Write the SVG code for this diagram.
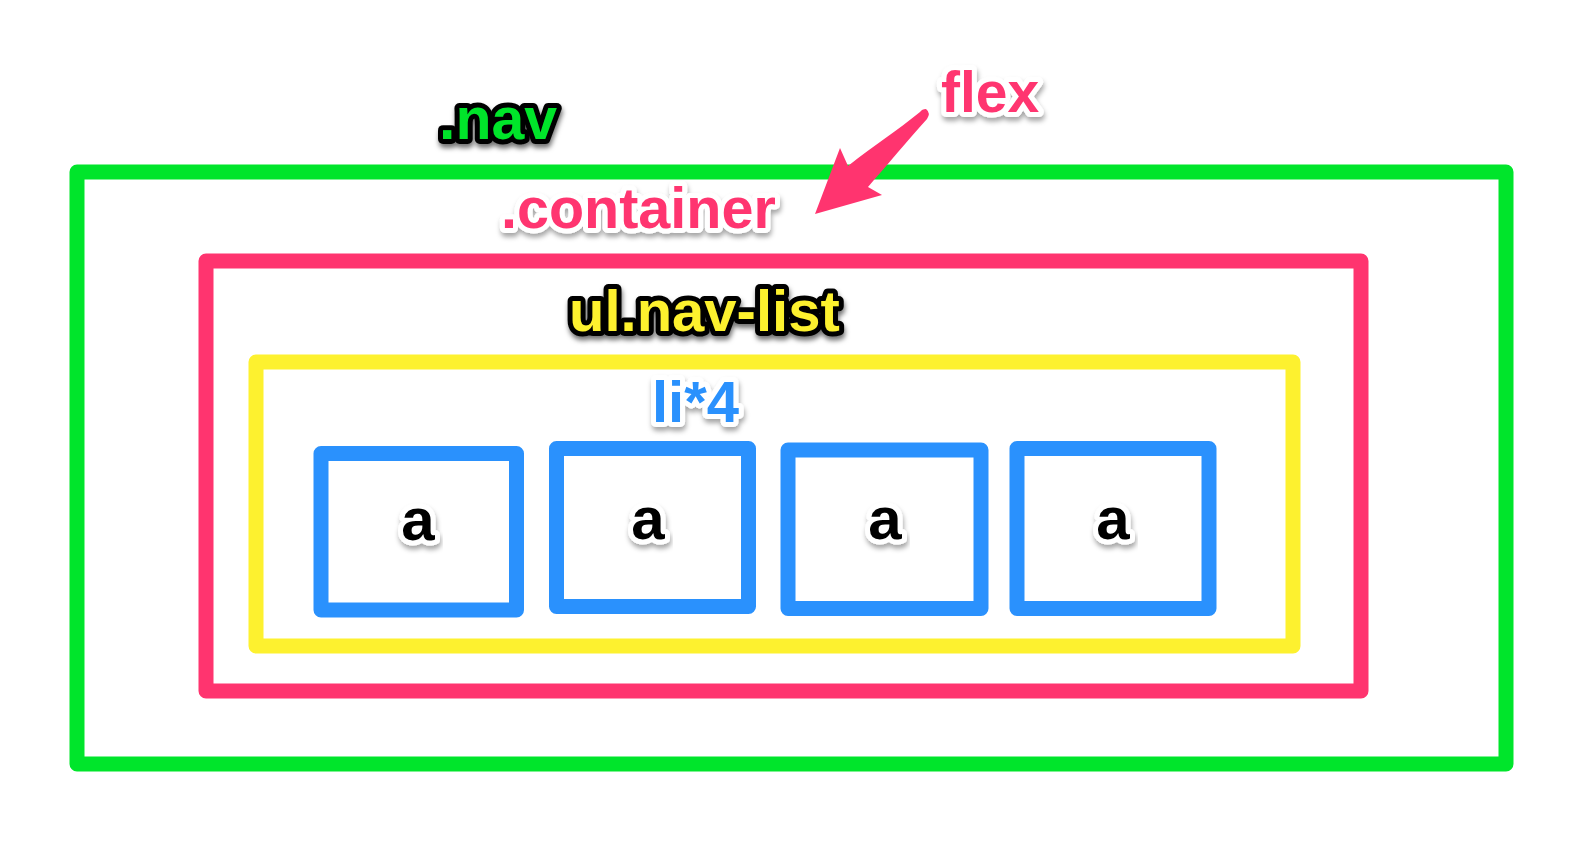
<svg xmlns="http://www.w3.org/2000/svg" width="1588" height="848" viewBox="0 0 1588 848">
  <defs>
    <filter id="shadowLight" x="-20%" y="-40%" width="140%" height="180%">
      <feDropShadow dx="1" dy="4" stdDeviation="2.5" flood-color="#000" flood-opacity="0.35"/>
    </filter>
    <filter id="shadowDark" x="-20%" y="-40%" width="140%" height="180%">
      <feDropShadow dx="1" dy="4" stdDeviation="2.5" flood-color="#000" flood-opacity="0.55"/>
    </filter>
  </defs>
  <style>
    .box { fill: none; stroke-width: 15; stroke-linejoin: round; }
    .green { stroke: #00e52b; }
    .pink { stroke: #ff346f; }
    .yellow { stroke: #fdf12f; }
    .blue { stroke: #2a91fd; }
    .lbl { font-family: "Liberation Sans", Arial, sans-serif; font-weight: bold; paint-order: stroke; stroke-linejoin: round; stroke-width: 10; }
    .lblDark { stroke: #000; filter: url(#shadowDark); }
    .lblLight { stroke: #fff; filter: url(#shadowLight); }
  </style>
  <rect width="1588" height="848" fill="#ffffff"/>

  <g id="nav">
    <rect class="box green" x="77" y="172" width="1429" height="592"/>
    <text class="lbl lblDark" x="439" y="139" font-size="59" fill="#00e52b">.nav</text>
  </g>

  <g id="container">
    <rect class="box pink" x="206" y="261" width="1155" height="430"/>
    <text class="lbl lblLight" x="501" y="228" font-size="57.5" fill="#ff346f">.container</text>
  </g>

  <g id="flex">
    <text class="lbl lblLight" x="941" y="112" font-size="57" fill="#ff346f">flex</text>
  </g>

  <g id="nav-list">
    <rect class="box yellow" x="256" y="362" width="1037" height="284"/>
    <text class="lbl lblDark" x="569" y="331" font-size="58" fill="#fdf12f">ul.nav-list</text>
  </g>

  <g id="li">
    <text class="lbl lblLight" x="652" y="421.5" font-size="58" fill="#2a91fd">li*4</text>
  </g>

  <g id="a1">
    <rect class="box blue" x="321" y="453.5" width="195.5" height="156.5"/>
    <text class="lbl lblLight" x="418" y="540" font-size="60" fill="#000" text-anchor="middle">a</text>
  </g>
  <g id="a2">
    <rect class="box blue" x="556.5" y="448.5" width="192" height="158"/>
    <text class="lbl lblLight" x="648" y="539" font-size="60" fill="#000" text-anchor="middle">a</text>
  </g>
  <g id="a3">
    <rect class="box blue" x="788" y="450" width="193" height="158.5"/>
    <text class="lbl lblLight" x="885" y="538.5" font-size="60" fill="#000" text-anchor="middle">a</text>
  </g>
  <g id="a4">
    <rect class="box blue" x="1017" y="448.5" width="192" height="160"/>
    <text class="lbl lblLight" x="1113" y="538.5" font-size="60" fill="#000" text-anchor="middle">a</text>
  </g>

  <g id="connectors">
    <path d="M 920,112 C 898,130 876,144 848,166 L 840,148 L 815,214 L 882,195 L 868,187 C 888,164 908,140 927,119 Q 931,113 926,109 Q 922,109 920,112 Z" fill="#ff346f"/>
  </g>
</svg>
